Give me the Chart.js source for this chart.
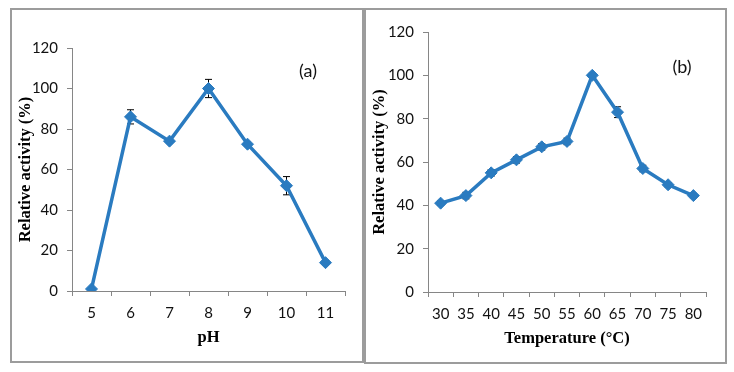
<!DOCTYPE html>
<html lang="en">
<head>
<meta charset="UTF-8">
<title>Relative activity vs pH and temperature</title>
<script src="https://cdn.jsdelivr.net/npm/chart.js@4.4.0/dist/chart.umd.min.js"></script>
<style>
    body { margin: 0; background: #fff; }
    .panel { position: absolute; border: 2px solid #9c9c9c; background: #fff; }
    .panel canvas { display: block; }
</style>
</head>
<body>

<div class="panel" id="panelA" style="left:10px; top:8px; width:350px; height:351px;">
    <canvas id="chartA" width="350" height="351"></canvas>
</div>
<div class="panel" id="panelB" style="left:364px; top:8px; width:359px; height:352px;">
    <canvas id="chartB" width="359" height="352"></canvas>
</div>

<script>
    // panel (a) - pH
    const phLabels = ["5", "6", "7", "8", "9", "10", "11"];
    const phActivity = [1, 86, 74, 100, 72.5, 52, 14];
    const phError = [0.5, 3.5, 1, 4.5, 1, 4.5, 1];

    // panel (b) - temperature
    const tempLabels = ["30", "35", "40", "45", "50", "55", "60", "65", "70", "75", "80"];
    const tempActivity = [41, 44.5, 55, 61, 67, 69.5, 100, 83, 57, 49.5, 44.5];
    const tempError = [1, 1.5, 1.5, 1.5, 1.5, 1.5, 1, 2.5, 1.5, 1, 1];

    const yTicks = [0, 20, 40, 60, 80, 100, 120];

    const blue = "#2a7bc0";
    const axisGray = "#868686";

    // error bars drawn before the line so the diamonds sit on top
    const errorBars = {
        id: "errorBars",
        beforeDatasetsDraw(chart, args, opts) {
            const ctx = chart.ctx;
            const x = chart.scales.x, y = chart.scales.y;
            const vals = chart.data.datasets[0].data;
            ctx.save();
            ctx.strokeStyle = "#000";
            ctx.lineWidth = 1;
            vals.forEach((v, i) => {
                const e = opts.errors[i];
                const px = x.getPixelForValue(i);
                const top = y.getPixelForValue(v + e);
                const bot = y.getPixelForValue(v - e);
                ctx.beginPath();
                ctx.moveTo(px, top); ctx.lineTo(px, bot);
                ctx.moveTo(px - 3.5, top); ctx.lineTo(px + 3.5, top);
                ctx.moveTo(px - 3.5, bot); ctx.lineTo(px + 3.5, bot);
                ctx.stroke();
            });
            ctx.restore();
        }
    };

    // small panel tag like "(a)"
    const panelTag = {
        id: "panelTag",
        afterDraw(chart, args, opts) {
            const ctx = chart.ctx;
            ctx.save();
            ctx.font = "18px Lato";
            ctx.fillStyle = "#111";
            ctx.textAlign = "center";
            ctx.textBaseline = "middle";
            ctx.fillText(opts.text, opts.x, opts.y);
            ctx.restore();
        }
    };

    function makeChart(id, labels, values, errors, xTitle, yWidth, pad, tag) {
        return new Chart(id, {
            type: "line",
            data: {
                labels: labels,
                datasets: [{
                    data: values,
                    borderColor: blue,
                    backgroundColor: blue,
                    borderWidth: 3.5,
                    pointStyle: "rectRot",
                    pointRadius: 6,
                    pointBorderWidth: 1,
                    tension: 0
                }]
            },
            options: {
                responsive: false,
                animation: false,
                layout: { padding: pad },
                plugins: {
                    legend: { display: false },
                    tooltip: { enabled: false },
                    errorBars: { errors: errors },
                    panelTag: tag
                },
                scales: {
                    x: {
                        offset: true,
                        grid: { drawOnChartArea: false, tickLength: 5, tickColor: axisGray, offset: true },
                        border: { color: axisGray, width: 1 },
                        ticks: { font: { family: "Lato", size: 15 }, color: "#111", padding: 8, maxRotation: 0 },
                        title: {
                            display: true, text: xTitle, color: "#000",
                            font: { family: "Liberation Serif", size: 16.5, weight: "bold" },
                            padding: { top: 0, bottom: 13 }
                        },
                        afterFit(scale) { scale.height = 70; }
                    },
                    y: {
                        min: 0, max: 120,
                        afterBuildTicks(scale) { scale.ticks = yTicks.map(v => ({ value: v })); },
                        grid: { drawOnChartArea: false, tickLength: 5, tickColor: axisGray },
                        border: { color: axisGray, width: 1 },
                        ticks: { font: { family: "Lato", size: 15 }, color: "#111", padding: 9 },
                        title: {
                            display: true, text: "Relative activity (%)", color: "#000",
                            font: { family: "Liberation Serif", size: 16.5, weight: "bold" },
                            padding: { top: 4, bottom: 4 }
                        },
                        afterFit(scale) { scale.width = yWidth; }
                    }
                }
            },
            plugins: [errorBars, panelTag]
        });
    }

    makeChart("chartA", phLabels, phActivity, phError, "pH", 60,
        { top: 38, right: 17, bottom: 0, left: 0 },
        { text: "(a)", x: 296, y: 61 });

    makeChart("chartB", tempLabels, tempActivity, tempError, "Temperature (°C)", 62,
        { top: 22, right: 19, bottom: 0, left: 0 },
        { text: "(b)", x: 316, y: 57 });
</script>
</body>
</html>
